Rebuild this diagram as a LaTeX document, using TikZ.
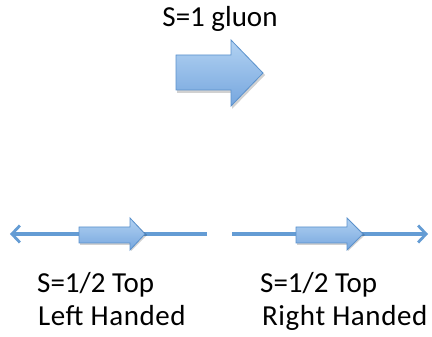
\documentclass[tikz,border=0pt]{standalone}
\usepackage{fontspec}
\setmainfont{Carlito}
\usetikzlibrary{arrows.meta}
\definecolor{arrowtop}{RGB}{178,210,242}
\definecolor{arrowbot}{RGB}{118,166,222}
\definecolor{arrowedge}{RGB}{90,145,204}
\definecolor{spinline}{RGB}{100,156,212}
\tikzset{
  blockarrow/.style={top color=arrowtop, bottom color=arrowbot, draw=arrowedge, line width=0.8pt, line join=miter},
  blockshadow/.style={fill=black, opacity=0.18},
  spinaxis/.style={draw=spinline, line width=3.1pt, -{Straight Barb[length=8pt,width=17pt,line width=2.8pt]}},
  spinlabel/.style={anchor=base west, inner sep=0pt, font=\fontsize{29}{33}\selectfont},
  spintitle/.style={anchor=base, inner sep=0pt, font=\fontsize{29}{33}\selectfont}
}
% block arrow: #1 x of body start, #2 x of head start, #3 x of tip,
% #4 y of head top, #5 body top, #6 axis, #7 body bottom, #8 head bottom
\newcommand{\blockarrowpath}[8]{(#1,#5) -- (#2,#5) -- (#2,#4) -- (#3,#6) -- (#2,#8) -- (#2,#7) -- (#1,#7) -- cycle}
\begin{document}
\begin{tikzpicture}[x=1pt,y=-1pt]
\useasboundingbox (0,0) rectangle (432,337);

% gluon spin
\node[spintitle] (gluon) at (220,27) {S=1 gluon};
\fill[blockshadow] \blockarrowpath{177}{232}{265}{42}{57}{75}{93}{109};
\path[blockarrow] \blockarrowpath{176}{231}{263}{40}{55}{73}{90}{106};

% left-handed top: axis arrow opposite to the spin
\coordinate (lend) at (207,234);
\coordinate (ltip) at (10,234);
\draw[spinaxis] (lend) -- (ltip);
\fill[blockshadow] \blockarrowpath{80}{131}{147}{219}{229}{235}{245}{251};
\path[blockarrow] \blockarrowpath{79}{130}{145}{218}{227}{234}{243}{250};

% right-handed top: axis arrow along the spin
\coordinate (rstart) at (232,234);
\coordinate (rtip) at (428,234);
\draw[spinaxis] (rstart) -- (rtip);
\fill[blockshadow] \blockarrowpath{297}{348}{365}{219}{229}{235}{245}{251};
\path[blockarrow] \blockarrowpath{296}{347}{363}{218}{227}{234}{243}{250};

% labels
\node[spinlabel] (lh1) at (37,292) {S=1/2 Top};
\node[spinlabel] (lh2) at (38,325) {\addfontfeature{LetterSpace=2}Left Handed};
\node[spinlabel] (rh1) at (260,292) {S=1/2 Top};
\node[spinlabel] (rh2) at (262,325) {\addfontfeature{LetterSpace=2}Right Handed};
\end{tikzpicture}
\end{document}
